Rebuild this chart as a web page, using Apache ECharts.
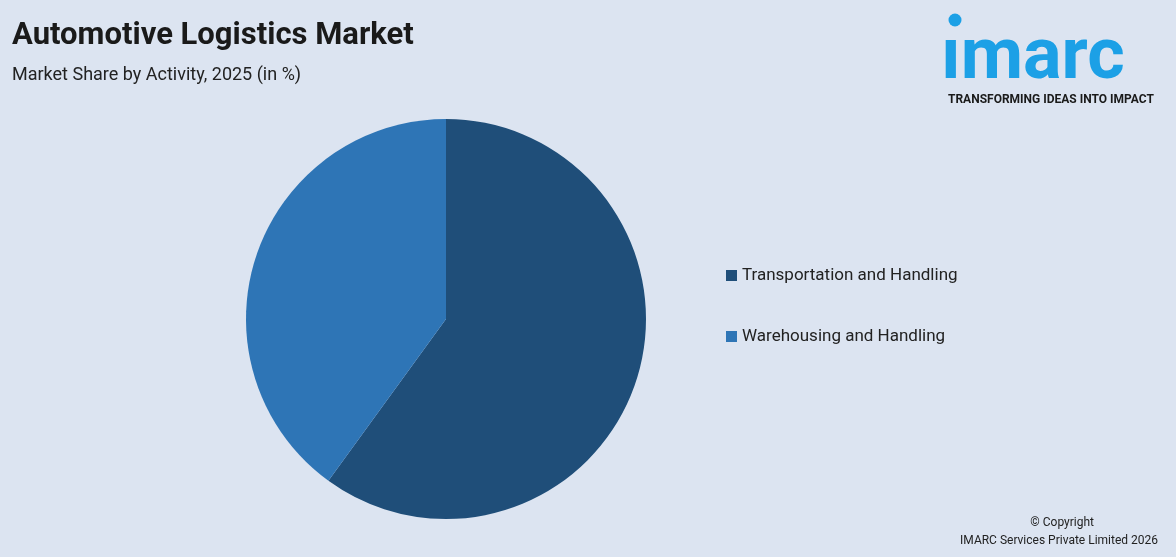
<!DOCTYPE html>
<html><head><meta charset="utf-8">
<script src="https://cdn.jsdelivr.net/npm/echarts@6/dist/echarts.min.js"></script>
<style>html,body{margin:0;padding:0;background:#dce4f1}#c{width:1176px;height:557px}</style>
</head><body><div id="c"></div>
<script>
const categories = ["Transportation and Handling", "Warehousing and Handling"];
const values = [60, 40];
const colors = ["#1f4e79", "#2e75b6"];
const chart = echarts.init(document.getElementById('c'));
chart.setOption({
  backgroundColor: '#dce4f1',
  animation: false,
  title: [
    {text: 'Automotive Logistics Market', left: 7, top: 16, textStyle: {fontFamily: 'Roboto', fontWeight: 'bold', fontSize: 31, color: '#1a1a1a'}},
    {text: 'Market Share by Activity, 2025 (in %)', left: 7, top: 61, textStyle: {fontFamily: 'Roboto', fontWeight: 'normal', fontSize: 18, color: '#222'}}
  ],
  legend: {
    orient: 'vertical', left: 721, top: 262, itemGap: 44, itemWidth: 11, itemHeight: 11, icon: 'rect',
    textStyle: {fontFamily: 'Roboto', fontSize: 17, color: '#222'},
    data: categories
  },
  series: [{
    type: 'pie', center: [446, 319], radius: 200, startAngle: 90, clockwise: true,
    label: {show: false}, labelLine: {show: false}, silent: true,
    data: categories.map((n, i) => ({name: n, value: values[i], itemStyle: {color: colors[i]}}))
  }],
  graphic: [
    {type: 'circle', shape: {cx: 955, cy: 20, r: 6.5}, style: {fill: '#1ca0e6'}},
    {type: 'text', left: 941, top: 24, style: {text: 'ımarc', font: 'bold 72px Roboto', fill: '#1ca0e6'}},
    {type: 'text', left: 948, top: 94, style: {text: 'TRANSFORMING IDEAS INTO IMPACT', font: 'bold 12px Roboto', fill: '#1a1a1a'}},
    {type: 'text', right: 82, top: 517, style: {text: '© Copyright', font: '12px Roboto', fill: '#222'}},
    {type: 'text', right: 18, top: 535, style: {text: 'IMARC Services Private Limited 2026', font: '12px Roboto', fill: '#222'}}
  ]
});
</script></body></html>
